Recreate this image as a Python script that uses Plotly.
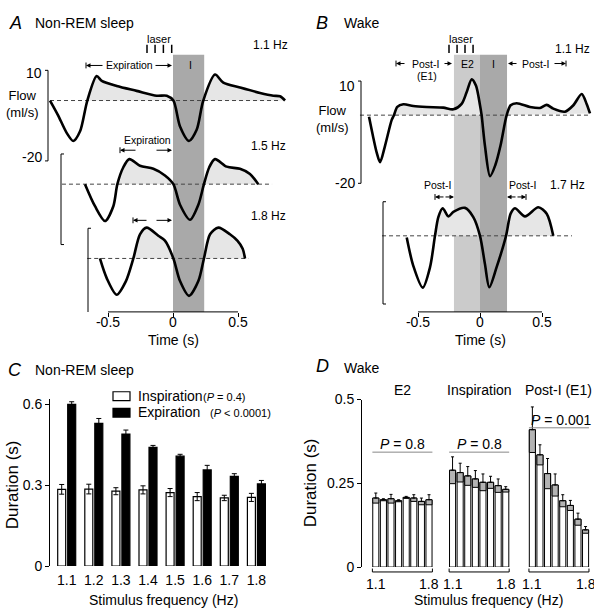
import plotly.graph_objects as go

W, H = 594, 616
FONT = "Liberation Sans, Arial, Helvetica, sans-serif"

# ---------------- data ----------------
# Panel A (non-REM sleep): airflow (ml/s) vs time (s) at 1.1, 1.5, 1.8 Hz
a1_t = [-0.946, -0.885, -0.818, -0.767, -0.715, -0.659, -0.587, -0.548, -0.433, -0.28, -0.125, -0.048,
        0.003, 0.054, 0.123, 0.182, 0.233, 0.323, 0.387, 0.515, 0.67, 0.772, 0.823, 0.862]
a1_f = [0, -4.8, -10.7, -13.4, -10.2, 0, 8.1, 6.5, 4.8, 3.2, 1.6, 1.6,
        0, -8.6, -13.4, -9.7, 0, 8.6, 5.9, 4.3, 2.5, 1.6, 1.4, 0]
a2_t = [-0.677, -0.6, -0.523, -0.459, -0.428, -0.382, -0.336, -0.254, -0.151, -0.062,
        0.003, 0.054, 0.131, 0.195, 0.238, 0.279, 0.323, 0.413, 0.515, 0.592, 0.656]
a2_f = [0, -7.3, -12.2, -7.3, 0, 5.6, 8.3, 6.1, 5.1, 2.9,
        0, -6.8, -11.8, -6.8, 0, 5.6, 8.3, 5.8, 5.1, 3.4, 0]
a3_t = [-0.562, -0.51, -0.433, -0.362, -0.305, -0.254, -0.203, -0.113, -0.062,
        0.003, 0.054, 0.123, 0.195, 0.238, 0.285, 0.349, 0.438, 0.495, 0.536, 0.554]
a3_f = [0, -6.5, -12, -7.5, 0, 8, 10.2, 7.5, 5.9,
        0, -7.5, -12.4, -7.5, 0, 8, 10.2, 8, 5.9, 3.2, 0]
a_labels = ["1.1 Hz", "1.5 Hz", "1.8 Hz"]
a_base_span = [(-0.946, 0.823), (-0.854, 0.762), (-0.66, 0.58)]
laser_a_t = [-0.2, -0.138, -0.074, -0.01]
a_insp_band = (0.0, 0.24)

# Panel B (wake): airflow at 1.1 and 1.7 Hz
b1_t = [-0.895, -0.86, -0.833, -0.806, -0.766, -0.712, -0.694, -0.667, -0.618, -0.538, -0.43, -0.296,
        -0.215, -0.148, -0.108, -0.067, -0.032, 0.0, 0.013, 0.04, 0.081, 0.125, 0.165, 0.215,
        0.247, 0.296, 0.403, 0.484, 0.538, 0.591, 0.685, 0.753, 0.82, 0.86, 0.887]
b1_f = [-0.5, -6.7, -11, -13.8, -9, -1.4, 0, 2.4, 3.2, 2.7, 2.4, 2.2,
        1.7, 3.3, 6.7, 10.5, 8.6, 2.9, 0, -9, -17.9, -14.5, -9, 0,
        2.9, 3.5, 2.4, 2.1, 3.0, 1.9, 1.0, 2.9, 6.2, 3.3, 0.5]
b2_t = [-0.591, -0.538, -0.462, -0.403, -0.363, -0.336, -0.301, -0.255, -0.215, -0.121, -0.054,
        0.0, 0.04, 0.075, 0.134, 0.21, 0.247, 0.282, 0.363, 0.47, 0.538, 0.591]
b2_f = [-0.5, -8.8, -15.2, -9.2, 0, 5.5, 8.1, 5.7, 7.0, 8.2, 5.5,
        0, -8.3, -15.1, -9.2, 0, 6.5, 8.1, 5.7, 8.4, 6.5, 0]
b_labels = ["1.1 Hz", "1.7 Hz"]
b_base_span = [(-0.968, 0.887), (-0.79, 0.742)]
laser_b_t = [-0.25, -0.185, -0.121, -0.056]
b_e2_band = (-0.21, 0.0)
b_i_band = (0.0, 0.218)

time_ticks = [-0.5, 0, 0.5]
time_ticktext = ["-0.5", "0", "0.5"]

# Panel C (non-REM sleep): durations (s)
freqs = ["1.1", "1.2", "1.3", "1.4", "1.5", "1.6", "1.7", "1.8"]
c_insp = [0.285, 0.286, 0.278, 0.283, 0.273, 0.258, 0.253, 0.255]
c_insp_err = [0.018, 0.018, 0.013, 0.015, 0.015, 0.015, 0.010, 0.015]
c_exp = [0.600, 0.530, 0.490, 0.441, 0.408, 0.357, 0.333, 0.305]
c_exp_err = [0.010, 0.018, 0.015, 0.007, 0.007, 0.017, 0.010, 0.013]

# Panel D (wake): durations (s)
d_groups = ["E2", "Inspiration", "Post-I (E1)"]
d_e2 = [0.206, 0.201, 0.204, 0.198, 0.208, 0.206, 0.196, 0.201]
d_e2_err = [0.015, 0.003, 0.013, 0.003, 0.003, 0.010, 0.010, 0.015]
d_insp = [0.289, 0.282, 0.272, 0.263, 0.253, 0.253, 0.243, 0.232]
d_insp_err = [0.040, 0.028, 0.028, 0.025, 0.025, 0.018, 0.020, 0.008]
d_post = [0.410, 0.335, 0.279, 0.245, 0.198, 0.184, 0.143, 0.111]
d_post_err = [0.068, 0.030, 0.045, 0.033, 0.018, 0.015, 0.018, 0.010]
d_pvals = ["<i>P</i> = 0.8", "<i>P</i> = 0.8", "<i>P</i> = 0.001"]

# ---------------- layout helpers ----------------
def dx(p0, p1):
    return [p0 / W, p1 / W]

def dy(top, bot):
    return [1 - bot / H, 1 - top / H]

def X(px):
    return px / W

def Y(py):
    return 1 - py / H

ann = []
shapes = []

def T(px, py, s, size=12, xa="center", ya="middle", angle=0):
    ann.append(dict(x=X(px), y=Y(py), xref="paper", yref="paper", text=s, showarrow=False,
                    xanchor=xa, yanchor=ya, textangle=angle, font=dict(size=size, color="black", family=FONT)))

def ARROW(px_head, py, px_tail):
    ann.append(dict(x=X(px_head), y=Y(py), xref="paper", yref="paper", ax=px_tail - px_head, ay=0,
                    text="", showarrow=True, arrowhead=2, arrowsize=0.9, arrowwidth=1, arrowcolor="black",
                    standoff=0, startstandoff=0))

def LP(px0, py0, px1, py1, w=1, color="black"):
    shapes.append(dict(type="line", xref="paper", yref="paper", x0=X(px0), y0=Y(py0), x1=X(px1), y1=Y(py1),
                       line=dict(color=color, width=w)))

# pixel -> data mappings for waveform panels
A_T0, A_SX, A_F0, A_SY = 173, 130, 95, 3.1
B_T0, B_SX, B_F0, B_SY = 480, 124, 110, 3.5
a_off = [0, -27.7, -52.3]
b_off = [0, -35.4]

A_box = (40, 296, 30, 312)
B_box = (355, 594, 30, 312)
A_xr = [(A_box[0] - A_T0) / A_SX, (A_box[1] - A_T0) / A_SX]
A_yr = [(A_F0 - A_box[3]) / A_SY, (A_F0 - A_box[2]) / A_SY]
B_xr = [(B_box[0] - B_T0) / B_SX, (B_box[1] - B_T0) / B_SX]
B_yr = [(B_F0 - B_box[3]) / B_SY, (B_F0 - B_box[2]) / B_SY]

fig = go.Figure()

FILL = "#e6e6e6"
SMOOTH = 0.8

def pos_segments(t, f):
    segs, cur = [], []
    for ti, fi in zip(t, f):
        if fi >= 0:
            cur.append((ti, fi))
        else:
            if len(cur) > 1:
                segs.append(cur)
            cur = []
    if len(cur) > 1:
        segs.append(cur)
    return segs

def add_wave(t, f, off, span, xa, ya):
    for seg in pos_segments(t, f):
        fig.add_trace(go.Scatter(x=[p[0] for p in seg], y=[p[1] + off for p in seg], mode="lines",
                                 line=dict(width=0, shape="spline", smoothing=SMOOTH), fill="toself",
                                 fillcolor=FILL, xaxis=xa, yaxis=ya, hoverinfo="skip", showlegend=False))
    fig.add_trace(go.Scatter(x=list(span), y=[off, off], mode="lines",
                             line=dict(color="#444444", width=1, dash="4px,3px"),
                             xaxis=xa, yaxis=ya, hoverinfo="skip", showlegend=False))
    fig.add_trace(go.Scatter(x=t, y=[v + off for v in f], mode="lines",
                             line=dict(color="black", width=2.6, shape="spline", smoothing=SMOOTH),
                             xaxis=xa, yaxis=ya, hoverinfo="skip", showlegend=False))

# ---- Panel A ----
shapes.append(dict(type="rect", xref="x", yref="y", x0=a_insp_band[0], x1=a_insp_band[1],
                   y0=A_yr[0], y1=(A_F0 - 48) / A_SY, fillcolor="#a9a9a9", line=dict(width=0), layer="below"))
for (t, f), off, span in zip([(a1_t, a1_f), (a2_t, a2_f), (a3_t, a3_f)], a_off, a_base_span):
    add_wave(t, f, off, span, "x", "y")
fig.add_trace(go.Scatter(x=laser_a_t, y=[(A_F0 - 42) / A_SY] * 4, mode="markers",
                         marker=dict(symbol="line-ns", size=6, line=dict(width=1.5, color="black")),
                         xaxis="x", yaxis="y", hoverinfo="skip", showlegend=False))
shapes.append(dict(type="line", xref="x", yref="y domain", x0=time_ticks[0], x1=time_ticks[-1], y0=0, y1=0,
                   line=dict(color="black", width=1)))

# ---- Panel B ----
shapes.append(dict(type="rect", xref="x2", yref="y2", x0=b_e2_band[0], x1=b_e2_band[1],
                   y0=B_yr[0], y1=(B_F0 - 48) / B_SY, fillcolor="#cbcbcb", line=dict(width=0), layer="below"))
shapes.append(dict(type="rect", xref="x2", yref="y2", x0=b_i_band[0], x1=b_i_band[1],
                   y0=B_yr[0], y1=(B_F0 - 48) / B_SY, fillcolor="#a9a9a9", line=dict(width=0), layer="below"))
for (t, f), off, span in zip([(b1_t, b1_f), (b2_t, b2_f)], b_off, b_base_span):
    add_wave(t, f, off, span, "x2", "y2")
fig.add_trace(go.Scatter(x=laser_b_t, y=[(B_F0 - 42) / B_SY] * 4, mode="markers",
                         marker=dict(symbol="line-ns", size=6, line=dict(width=1.5, color="black")),
                         xaxis="x2", yaxis="y2", hoverinfo="skip", showlegend=False))
shapes.append(dict(type="line", xref="x2", yref="y2 domain", x0=time_ticks[0], x1=time_ticks[-1], y0=0, y1=0,
                   line=dict(color="black", width=1)))

# scale bars (10 to -20 ml/s)
def scale_bar(xr, yr, tpx, T0, SX, off, side):
    tb = (tpx - T0) / SX
    d = 3.0 / SX * side
    for y0, y1, x0, x1 in [(10 + off, -20 + off, tb, tb), (10 + off, 10 + off, tb, tb + d),
                           (-20 + off, -20 + off, tb, tb + d)]:
        shapes.append(dict(type="line", xref=xr, yref=yr, x0=x0, x1=x1, y0=y0, y1=y1,
                           line=dict(color="black", width=1)))

scale_bar("x", "y", 48, A_T0, A_SX, a_off[0], -1)
scale_bar("x", "y", 61, A_T0, A_SX, a_off[1], 1)
scale_bar("x", "y", 88, A_T0, A_SX, a_off[2], 1)
scale_bar("x2", "y2", 361, B_T0, B_SX, b_off[0], -1)
scale_bar("x2", "y2", 383, B_T0, B_SX, b_off[1], 1)

# ---- Panel C ----
ci = list(range(len(freqs)))
fig.add_trace(go.Bar(x=ci, y=c_insp, width=0.295, offset=-0.332,
                     marker=dict(color="white", line=dict(color="black", width=1.2)),
                     error_y=dict(type="data", array=c_insp_err, color="black", thickness=1, width=2.5),
                     xaxis="x3", yaxis="y3", showlegend=False, hoverinfo="skip"))
fig.add_trace(go.Bar(x=ci, y=c_exp, width=0.295, offset=0.037,
                     marker=dict(color="black", line=dict(color="black", width=1.2)),
                     error_y=dict(type="data", array=c_exp_err, color="black", thickness=1, width=2.5),
                     xaxis="x3", yaxis="y3", showlegend=False, hoverinfo="skip"))

# ---- Panel D ----
d_goff = [0, 10.1, 20.6]
D_P0, D_SX = 375.8, 7.6
afont = dict(size=14, family=FONT, color="black")
for g, (vals, errs) in enumerate([(d_e2, d_e2_err), (d_insp, d_insp_err), (d_post, d_post_err)]):
    pos = [d_goff[g] + i for i in range(len(vals))]
    fig.add_trace(go.Bar(x=pos, y=vals, width=0.8,
                         marker=dict(color="white", line=dict(color="black", width=1)),
                         xaxis="x4", yaxis="y4", showlegend=False, hoverinfo="skip"))
    fig.add_trace(go.Bar(x=pos, y=errs, base=[v - e for v, e in zip(vals, errs)], width=0.8,
                         marker=dict(color="#b3b3b3", line=dict(color="black", width=1)),
                         error_y=dict(type="data", array=errs, arrayminus=[0] * len(errs), color="black",
                                      thickness=1, width=1.5),
                         xaxis="x4", yaxis="y4", showlegend=False, hoverinfo="skip"))
    x0, x1 = pos[0] - 0.45, pos[-1] + 0.45
    shapes.append(dict(type="line", xref="x4", yref="paper", x0=x0, x1=x1, y0=Y(579), y1=Y(579),
                       line=dict(color="black", width=1)))
    for xe in (x0, x1):
        shapes.append(dict(type="line", xref="x4", yref="paper", x0=xe, x1=xe, y0=Y(579), y1=Y(575.5),
                           line=dict(color="black", width=1)))
    ann.append(dict(x=pos[0], y=Y(591), xref="x4", yref="paper", text=freqs[0], showarrow=False,
                    xanchor="center", yanchor="middle", font=afont))
    ann.append(dict(x=pos[-1], y=Y(591), xref="x4", yref="paper", text=freqs[-1], showarrow=False,
                    xanchor="center", yanchor="middle", font=afont))
    py_line = 456 if g < 2 else 431
    shapes.append(dict(type="line", xref="x4", yref="paper", x0=x0, x1=x1, y0=Y(py_line), y1=Y(py_line),
                       line=dict(color="#888888", width=1)))
    ann.append(dict(x=(x0 + x1) / 2 + (0.3 if g == 2 else 0), y=Y(py_line - 8), xref="x4", yref="paper",
                    text=d_pvals[g], showarrow=False, xanchor="center", yanchor="middle", font=afont))
    ann.append(dict(x=(x0 + x1) / 2, y=Y(392), xref="x4", yref="paper", text=d_groups[g], showarrow=False,
                    xanchor="center", yanchor="middle", font=afont))

# ---------------- text ----------------
T(15, 15, "<i>A</i>", 18)
T(33, 15, "Non-REM sleep", 14, xa="left")
T(159, 32, "laser", 11)
T(270, 38, a_labels[0], 12)
T(268, 142, a_labels[1], 12)
T(268, 214, a_labels[2], 12)
T(22, 99, "Flow<br>(ml/s)", 13)
T(44, 67, "10", 14, xa="right")
T(44, 153, "-20", 14, xa="right")
T(129, 59, "Expiration", 10.5)
ARROW(86, 59, 104); ARROW(172, 59, 154)
LP(86, 56, 86, 62)
T(190, 59, "I", 10.5)
T(147, 136, "Expiration", 10.5)
ARROW(120, 146, 137); ARROW(172, 146, 155)
LP(120, 143, 120, 149)
ARROW(133, 218, 148); ARROW(172, 218, 155)
LP(133, 215, 133, 221)
T(173, 341, "Time (s)", 14)

T(322, 15, "<i>B</i>", 18)
T(342, 15, "Wake", 14, xa="left")
T(461, 32, "laser", 11)
T(572, 42, b_labels[0], 12)
T(567, 182, b_labels[1], 12)
T(332, 114, "Flow<br>(ml/s)", 13)
T(357, 80, "10", 14, xa="right")
T(357, 180, "-20", 14, xa="right")
T(467, 57, "E2", 10.5)
T(493, 57, "I", 10.5)
T(425, 57, "Post-I", 10.5)
T(427, 70, "(E1)", 10.5)
ARROW(396, 57, 406); ARROW(452, 57, 443)
LP(396, 54, 396, 60)
T(535, 57, "Post-I", 10.5)
ARROW(508, 57, 518); ARROW(566, 57, 553)
LP(566, 54, 566, 60)
T(437, 182, "Post-I", 10.5)
ARROW(435, 194, 445); ARROW(454, 194, 444)
LP(435, 191, 435, 197)
T(522, 182, "Post-I", 10.5)
ARROW(507, 194, 517); ARROW(526, 194, 516)
LP(526, 191, 526, 197)
T(480, 341, "Time (s)", 14)

T(15, 372, "<i>C</i>", 18)
T(33, 372, "Non-REM sleep", 14, xa="left")
T(12, 490, "Duration (s)", 17, angle=-90)
T(163, 608, "Stimulus frequency (Hz)", 14)
shapes.append(dict(type="rect", xref="paper", yref="paper", x0=X(113), x1=X(130), y0=Y(403), y1=Y(394),
                   fillcolor="white", line=dict(color="black", width=1.2)))
shapes.append(dict(type="rect", xref="paper", yref="paper", x0=X(113), x1=X(130), y0=Y(420), y1=Y(411),
                   fillcolor="black", line=dict(color="black", width=1.2)))
T(136, 398, "Inspiration", 14, xa="left")
T(201, 399, "(<i>P</i> = 0.4)", 11, xa="left")
T(136, 415, "Expiration", 14, xa="left")
T(208, 416, "(<i>P</i> < 0.0001)", 11, xa="left")

T(322, 368, "<i>D</i>", 18)
T(342, 370, "Wake", 14, xa="left")
T(310, 488, "Duration (s)", 17, angle=-90)
T(488, 608, "Stimulus frequency (Hz)", 14)

C_P0, C_SX = 66.7, 27.1
C_box = (50, 285, 401.5, 573)
D_box = (362, 594, 402, 574)

tickfont = dict(size=14, family=FONT, color="black")
fig.update_layout(
    width=W, height=H, margin=dict(l=0, r=0, t=0, b=0),
    paper_bgcolor="white", plot_bgcolor="rgba(0,0,0,0)",
    font=dict(family=FONT, color="black"),
    barmode="overlay", showlegend=False,
    xaxis=dict(domain=dx(A_box[0], A_box[1]), range=A_xr, anchor="y", tickvals=time_ticks, ticktext=time_ticktext,
               ticks="outside", ticklen=4, tickcolor="black", showline=False, showgrid=False, zeroline=False,
               tickfont=tickfont, ticklabelstandoff=-7),
    yaxis=dict(domain=dy(A_box[2], A_box[3]), range=A_yr, anchor="x", visible=False),
    xaxis2=dict(domain=dx(B_box[0], B_box[1]), range=B_xr, anchor="y2", tickvals=time_ticks, ticktext=time_ticktext,
                ticks="outside", ticklen=4, tickcolor="black", showline=False, showgrid=False, zeroline=False,
                tickfont=tickfont, ticklabelstandoff=-7),
    yaxis2=dict(domain=dy(B_box[2], B_box[3]), range=B_yr, anchor="x2", visible=False),
    xaxis3=dict(domain=dx(C_box[0], C_box[1]),
                range=[(C_box[0] - C_P0) / C_SX, (C_box[1] - C_P0) / C_SX], anchor="y3",
                tickvals=ci, ticktext=freqs, ticks="", showline=False, showgrid=False, zeroline=False,
                tickfont=tickfont, ticklabelstandoff=4),
    yaxis3=dict(domain=dy(C_box[2], C_box[3]), range=[0, 0.62], anchor="x3", tickvals=[0, 0.3, 0.6],
                ticktext=["0", "0.3", "0.6"], ticks="outside", ticklen=4, tickcolor="black", showline=True,
                linecolor="black", linewidth=1, showgrid=False, zeroline=False, tickfont=tickfont),
    xaxis4=dict(domain=dx(D_box[0], D_box[1]),
                range=[(D_box[0] - D_P0) / D_SX, (D_box[1] - D_P0) / D_SX], anchor="y4",
                visible=False),
    yaxis4=dict(domain=dy(D_box[2], D_box[3]), range=[0, 0.5], anchor="x4", tickvals=[0, 0.25, 0.5],
                ticktext=["0", "0.25", "0.5"], ticks="outside", ticklen=4, tickcolor="black", showline=True,
                linecolor="black", linewidth=1, showgrid=False, zeroline=False, tickfont=tickfont),
    shapes=shapes, annotations=ann,
)

fig.write_html("out.html", config={"displayModeBar": False},
               post_script="document.body.style.margin='0';document.body.style.overflow='hidden';")
